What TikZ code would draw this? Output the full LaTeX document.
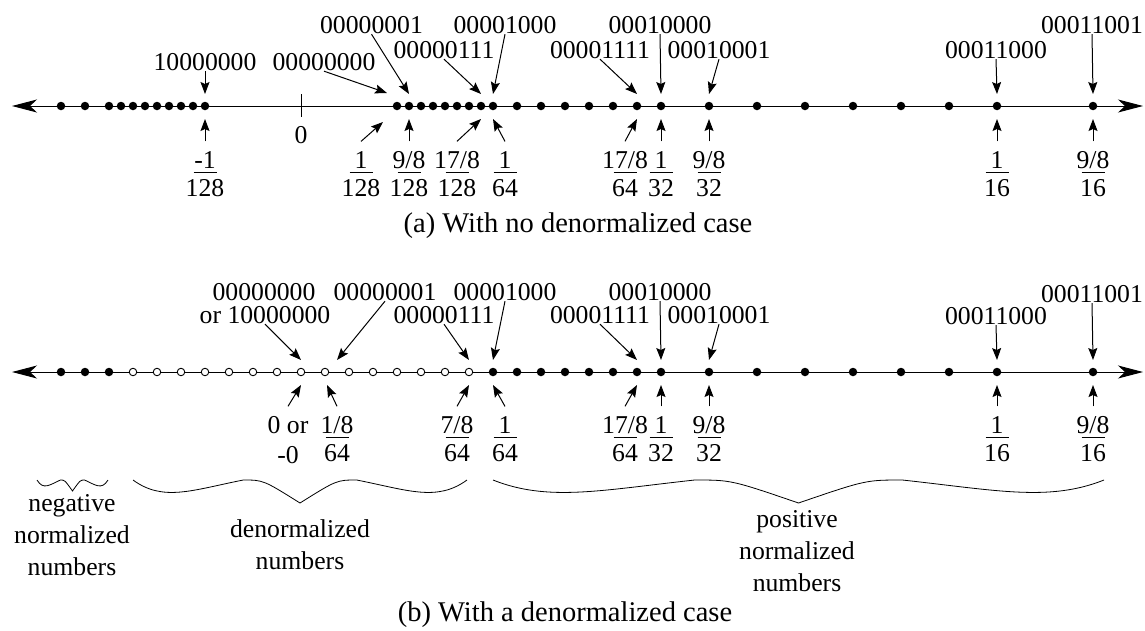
\documentclass[tikz,border=0pt]{standalone}
\usepackage{fontspec}
\setmainfont{Liberation Serif}
\usetikzlibrary{arrows.meta}

% value written as a stacked fraction with a short bar
\newcommand\bitfrac[2]{#1\\[-27pt]\rule{23pt}{1pt}\\[-9pt]#2}
% curly brace under a range: left, right, top, depth
\newcommand\fpbrace[4]{%
  \draw[line width=0.8pt] (#1,#3)
    .. controls ({#1+0.09*(#2-#1)},{#3+0.95*#4}) and ({#1+0.175*(#2-#1)},{#3+0.45*#4}) .. ({#1+0.33*(#2-#1)},#3)
    .. controls ({#1+0.39*(#2-#1)},#3) .. ({(#1+#2)/2},{#3+#4})
    .. controls ({#2-0.39*(#2-#1)},#3) .. ({#2-0.33*(#2-#1)},#3)
    .. controls ({#2-0.175*(#2-#1)},{#3+0.45*#4}) and ({#2-0.09*(#2-#1)},{#3+0.95*#4}) .. (#2,#3);}

\begin{document}
\begin{tikzpicture}[x=1pt,y=-1pt,line width=1pt,
  font=\fontsize{25.7pt}{32pt}\selectfont,
  fsdot/.style={circle,fill,inner sep=0pt,minimum size=8.5pt},
  dndot/.style={circle,draw,fill=white,inner sep=0pt,minimum size=7.5pt,line width=0.9pt},
  bits/.style={inner sep=0pt,align=center},
  val/.style={inner sep=0pt,outer ysep=10pt,align=center},
  caption/.style={font=\fontsize{28.5pt}{34pt}\selectfont},
  ptr/.style={-{Stealth[length=12pt,width=9pt,inset=2pt]}},
  axis/.style={{Stealth[length=25pt,width=13pt,inset=7pt]}-{Stealth[length=25pt,width=13pt,inset=7pt]}}]

  \useasboundingbox (0,0) rectangle (1145,630);

  % (a) no denormals
  \coordinate (aL) at (12,106);
  \coordinate (aR) at (1143,106);
  \coordinate (a0) at (301,106);
  \draw[axis] (aL) -- (aR);
  \draw ([yshift=12pt]a0) -- ([yshift=-11pt]a0);
  \foreach \k in {-20,-18,-16,-15,...,-8,8,9,...,16,18,20,...,30,34,38,...,58,66}
    \node[fsdot] (a\k) at ({301+12*(\k)},106) {};

  \node[bits] (ac-8) at (205,62) {10000000};
  \node[bits] (ac8) at (324,62) {00000000};
  \node[bits] (ac9) at (371.5,25) {00000001};
  \node[bits] (ac15) at (444,50) {00000111};
  \node[bits] (ac16) at (505,25) {00001000};
  \node[bits] (ac28) at (600,50) {00001111};
  \node[bits] (ac30) at (660,25) {00010000};
  \node[bits] (ac34) at (719,50) {00010001};
  \node[bits] (ac58) at (996,50) {00011000};
  \node[bits] (ac66) at (1092,25) {00011001};
  \foreach \k in {-8,9,15,16,28,30,34,58,66}
    \draw[ptr] (ac\k.south) -- ([yshift=12pt]a\k.center);
  \draw[ptr] (ac8.south) -- ([shift={(-10pt,13pt)}]a8.center);

  \node (az) at (301,135) {0};
  \node[val] (av-8) at (205,174) {\bitfrac{-1}{128}};
  \node[val] (av8) at (361,174) {\bitfrac{1}{128}};
  \node[val] (av9) at (409,174) {\bitfrac{9/8}{128}};
  \node[val] (av15) at (457,174) {\bitfrac{17/8}{128}};
  \node[val] (av16) at (505,174) {\bitfrac{1}{64}};
  \node[val] (av28) at (625,174) {\bitfrac{17/8}{64}};
  \node[val] (av30) at (661,174) {\bitfrac{1}{32}};
  \node[val] (av34) at (709,174) {\bitfrac{9/8}{32}};
  \node[val] (av58) at (997,174) {\bitfrac{1}{16}};
  \node[val] (av66) at (1093,174) {\bitfrac{9/8}{16}};
  \foreach \k in {-8,9,15,16,28,30,34,58,66}
    \draw[ptr] (av\k.north) -- ([yshift=-13pt]a\k.center);
  \draw[ptr] (av8.north) -- ([shift={(-14pt,-16pt)}]a8.center);

  \node[caption] (acap) at (578,226) {(a) With no denormalized case};

  % (b) with denormals
  \coordinate (bL) at (12,372);
  \coordinate (bR) at (1143,372);
  \draw[axis] (bL) -- (bR);
  \foreach \k in {-20,-18,-16,16,18,...,30,34,38,...,58,66}
    \node[fsdot] (b\k) at ({301+12*(\k)},372) {};
  \foreach \k in {-14,-12,...,14}
    \node[dndot] (b\k) at ({301+12*(\k)},372) {};

  \node[bits] (bc0top) at (264,292) {00000000};
  \node[bits] (bc0) at (265,315) {or 10000000};
  \node[bits] (bc2) at (385,292) {00000001};
  \node[bits] (bc14) at (444,315) {00000111};
  \node[bits] (bc16) at (505,292) {00001000};
  \node[bits] (bc28) at (600,315) {00001111};
  \node[bits] (bc30) at (660,292) {00010000};
  \node[bits] (bc34) at (719,315) {00010001};
  \node[bits] (bc58) at (996,316) {00011000};
  \node[bits] (bc66) at (1092,294) {00011001};
  \foreach \k in {0,14,16,28,30,34,58,66}
    \draw[ptr] (bc\k.south) -- ([yshift=12pt]b\k.center);
  \draw[ptr] (bc2.south) -- ([shift={(12pt,12pt)}]b2.center);

  \node[val] (bv0) at (288,440) {0 or\\[-2pt]-0};
  \node[val] (bv2) at (337,439) {\bitfrac{1/8}{64}};
  \node[val] (bv14) at (457,439) {\bitfrac{7/8}{64}};
  \node[val] (bv16) at (505,439) {\bitfrac{1}{64}};
  \node[val] (bv28) at (625,439) {\bitfrac{17/8}{64}};
  \node[val] (bv30) at (661,439) {\bitfrac{1}{32}};
  \node[val] (bv34) at (709,439) {\bitfrac{9/8}{32}};
  \node[val] (bv58) at (997,439) {\bitfrac{1}{16}};
  \node[val] (bv66) at (1093,439) {\bitfrac{9/8}{16}};
  \foreach \k in {0,14,16,28,30,34,58,66}
    \draw[ptr] (bv\k.north) -- ([yshift=-13pt]b\k.center);
  \draw[ptr] (bv2.north) -- ([shift={(2pt,-13pt)}]b2.center);

  % ranges
  \fpbrace{37}{108}{480}{11}
  \fpbrace{133}{467}{480}{23}
  \fpbrace{493}{1104}{480}{23}
  \node[align=center] (bneg) at (72,535) {negative\\normalized\\numbers};
  \node[align=center] (bden) at (300,545) {denormalized\\numbers};
  \node[align=center] (bpos) at (797,551) {positive\\normalized\\numbers};

  \node[caption] (bcap) at (565,615) {(b) With a denormalized case};
\end{tikzpicture}
\end{document}
